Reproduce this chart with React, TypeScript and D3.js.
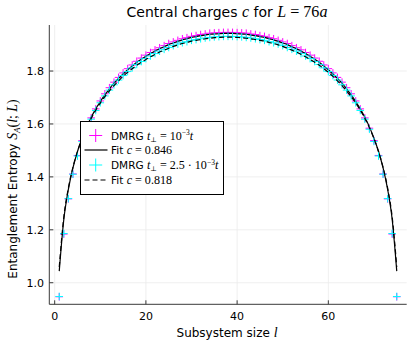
import React from 'react';
import * as d3 from 'd3';

// subsystem sizes l = 1..75 (chain length L = 76)
const sizes = d3.range(1, 76);

// DMRG, t_perp = 1e-3 t
const dmrgSmall = [
  0.947, 1.184, 1.317, 1.411, 1.481, 1.537, 1.584, 1.623, 1.657, 1.687, 1.714, 1.737, 1.758, 1.776, 1.793, 1.809, 1.823, 1.837, 1.849, 1.860,
  1.870, 1.880, 1.888, 1.896, 1.904, 1.910, 1.916, 1.922, 1.926, 1.931, 1.934, 1.938, 1.940, 1.943, 1.944, 1.945, 1.946, 1.946,
  1.946, 1.945, 1.944, 1.943, 1.940, 1.938, 1.934, 1.931, 1.926, 1.922, 1.916, 1.910, 1.904, 1.896, 1.888, 1.880, 1.870, 1.860,
  1.849, 1.837, 1.823, 1.809, 1.793, 1.776, 1.758, 1.737, 1.714, 1.687, 1.657, 1.623, 1.584, 1.537, 1.481, 1.411, 1.317, 1.184, 0.947,
];

// fit c = 0.846
const fitSmall = [
  1.044, 1.239, 1.353, 1.434, 1.496, 1.546, 1.589, 1.625, 1.657, 1.685, 1.710, 1.733, 1.754, 1.772, 1.789, 1.805, 1.819, 1.833, 1.845, 1.856,
  1.866, 1.876, 1.884, 1.892, 1.900, 1.906, 1.912, 1.918, 1.922, 1.927, 1.930, 1.934, 1.936, 1.939, 1.940, 1.941, 1.942, 1.942,
  1.942, 1.941, 1.940, 1.939, 1.936, 1.934, 1.930, 1.927, 1.922, 1.918, 1.912, 1.906, 1.900, 1.892, 1.884, 1.876, 1.866, 1.856,
  1.845, 1.833, 1.819, 1.805, 1.789, 1.772, 1.754, 1.733, 1.710, 1.685, 1.657, 1.625, 1.589, 1.546, 1.496, 1.434, 1.353, 1.239, 1.044,
];

// DMRG, t_perp = 2.5e-3 t
const dmrgLarge = [
  0.948, 1.186, 1.318, 1.410, 1.479, 1.534, 1.580, 1.618, 1.651, 1.680, 1.706, 1.728, 1.748, 1.766, 1.783, 1.798, 1.812, 1.825, 1.836, 1.847,
  1.857, 1.866, 1.875, 1.882, 1.889, 1.896, 1.902, 1.907, 1.911, 1.916, 1.919, 1.922, 1.925, 1.927, 1.929, 1.930, 1.931, 1.931,
  1.931, 1.930, 1.929, 1.927, 1.925, 1.922, 1.919, 1.916, 1.911, 1.907, 1.902, 1.896, 1.889, 1.882, 1.875, 1.866, 1.857, 1.847,
  1.836, 1.825, 1.812, 1.798, 1.783, 1.766, 1.748, 1.728, 1.706, 1.680, 1.651, 1.618, 1.580, 1.534, 1.479, 1.410, 1.318, 1.186, 0.948,
];

// fit c = 0.818
const fitLarge = [
  1.059, 1.248, 1.358, 1.436, 1.496, 1.545, 1.586, 1.621, 1.652, 1.679, 1.703, 1.725, 1.745, 1.763, 1.780, 1.795, 1.809, 1.822, 1.833, 1.844,
  1.854, 1.863, 1.872, 1.879, 1.886, 1.893, 1.899, 1.904, 1.908, 1.913, 1.916, 1.919, 1.922, 1.924, 1.926, 1.927, 1.928, 1.928,
  1.928, 1.927, 1.926, 1.924, 1.922, 1.919, 1.916, 1.913, 1.908, 1.904, 1.899, 1.893, 1.886, 1.879, 1.872, 1.863, 1.854, 1.844,
  1.833, 1.822, 1.809, 1.795, 1.780, 1.763, 1.745, 1.725, 1.703, 1.679, 1.652, 1.621, 1.586, 1.545, 1.496, 1.436, 1.358, 1.248, 1.059,
];

const xTicks = [0, 20, 40, 60];
const yTicks = [1.0, 1.2, 1.4, 1.6, 1.8];

const W = 415, H = 346;
const plot = { left: 49.3, right: 406.7, top: 25, bottom: 304.3 };
const sans = "'DejaVu Sans', sans-serif";
const serif = "'Liberation Serif', 'DejaVu Serif', serif";
const MAG = '#ff00ff';
const CYN = '#00ffff';

const x = d3.scaleLinear().domain([-1.18, 77.18]).range([plot.left, plot.right]);
const y = d3.scaleLinear().domain([0.9185, 1.974]).range([plot.bottom, plot.top]);

const line = d3.line<number>()
  .x((_, i) => x(sizes[i]))
  .y(d => y(d))
  .curve(d3.curveMonotoneX);

const Cross = ({ cx, cy, color, s = 3.8 }: { cx: number; cy: number; color: string; s?: number }) => (
  <g stroke={color} strokeWidth={1}>
    <line x1={cx - s} x2={cx + s} y1={cy} y2={cy} />
    <line x1={cx} x2={cx} y1={cy - s} y2={cy + s} />
  </g>
);

// math bits (rendered like LaTeX: serif, a bit larger than the sans text)
const M = ({ children, it = true, k = 1.15 }: { children: React.ReactNode; it?: boolean; k?: number }) => (
  <tspan fontFamily={serif} fontStyle={it ? 'italic' : 'normal'} fontSize={`${k}em`}>{children}</tspan>
);

const App = () => {
  const legendRows = [135.5, 150, 165, 180];
  return (
    <svg width={W} height={H} style={{ position: 'absolute', left: 0, top: 0, background: 'white' }}>
      {/* grid */}
      <g stroke="#ebebeb" strokeWidth={0.8}>
        {xTicks.map(t => <line key={'gx' + t} x1={x(t)} x2={x(t)} y1={plot.top} y2={plot.bottom} />)}
        {yTicks.map(t => <line key={'gy' + t} x1={plot.left} x2={plot.right} y1={y(t)} y2={y(t)} />)}
      </g>

      {/* series */}
      <g>
        {dmrgSmall.map((v, i) => <Cross key={'m' + i} cx={x(sizes[i])} cy={y(v)} color={MAG} />)}
      </g>
      <path d={line(fitSmall) || ''} fill="none" stroke="black" strokeWidth={1.2} />
      <g>
        {dmrgLarge.map((v, i) => <Cross key={'c' + i} cx={x(sizes[i])} cy={y(v)} color={CYN} />)}
      </g>
      <path d={line(fitLarge) || ''} fill="none" stroke="black" strokeWidth={1.2} strokeDasharray="5,3" />

      {/* axes */}
      <g stroke="#3a3a3a" strokeWidth={1}>
        <line x1={plot.left} x2={plot.left} y1={plot.top} y2={plot.bottom} />
        <line x1={plot.left} x2={plot.right} y1={plot.bottom} y2={plot.bottom} />
        {xTicks.map(t => <line key={'tx' + t} x1={x(t)} x2={x(t)} y1={plot.bottom} y2={plot.bottom - 4} />)}
        {yTicks.map(t => <line key={'ty' + t} x1={plot.left} x2={plot.left + 4} y1={y(t)} y2={y(t)} />)}
      </g>
      <g fontFamily={sans} fontSize={11} fill="black">
        {xTicks.map(t => (
          <text key={'lx' + t} x={x(t)} y={320} textAnchor="middle">{t}</text>
        ))}
        {yTicks.map(t => (
          <text key={'ly' + t} x={44} y={y(t) + 4} textAnchor="end">{t.toFixed(1)}</text>
        ))}
      </g>

      {/* title */}
      <text x={227} y={17} textAnchor="middle" fontFamily={sans} fontSize={14}>
        Central charges <M>c</M> for <M>L</M><M it={false}> = 76</M><M>a</M>
      </text>

      {/* axis labels */}
      <text x={227} y={337} textAnchor="middle" fontFamily={sans} fontSize={12}>
        Subsystem size <M>l</M>
      </text>
      <text transform="translate(17,189) rotate(-90)" textAnchor="middle" fontFamily={sans} fontSize={12}>
        Entanglement Entropy <M>S</M>
        <tspan fontFamily={serif} fontStyle="italic" fontSize={9} dy={3}>A</tspan>
        <tspan dy={-3}><M it={false}>(</M><M>l</M><M it={false}>; </M><M>L</M><M it={false}>)</M></tspan>
      </text>

      {/* legend */}
      <rect x={80.5} y={121.5} width={143} height={73} fill="white" stroke="black" strokeWidth={1} />
      <Cross cx={95.7} cy={legendRows[0]} color={MAG} s={6.5} />
      <line x1={84.5} x2={107.5} y1={legendRows[1]} y2={legendRows[1]} stroke="black" strokeWidth={1.2} />
      <Cross cx={95.7} cy={legendRows[2]} color={CYN} s={6.5} />
      <line x1={84.5} x2={107.5} y1={legendRows[3]} y2={legendRows[3]} stroke="black" strokeWidth={1.2} strokeDasharray="5,3" />
      <g fontFamily={sans} fontSize={10.5}>
        <text x={111} y={legendRows[0] + 4}>
          DMRG <M>t</M><tspan fontFamily={serif} fontSize={7} dy={2}>⊥</tspan>
          <tspan dy={-2}><M it={false}> = 10</M></tspan>
          <tspan fontFamily={serif} fontSize={7.5} dy={-4.5}>−3</tspan>
          <tspan dy={4.5}><M>t</M></tspan>
        </text>
        <text x={111} y={legendRows[1] + 4}>
          Fit <M>c</M><M it={false}> = 0.846</M>
        </text>
        <text x={111} y={legendRows[2] + 4}>
          DMRG <M>t</M><tspan fontFamily={serif} fontSize={7} dy={2}>⊥</tspan>
          <tspan dy={-2}><M it={false}> = 2.5 · 10</M></tspan>
          <tspan fontFamily={serif} fontSize={7.5} dy={-4.5}>−3</tspan>
          <tspan dy={4.5}><M>t</M></tspan>
        </text>
        <text x={111} y={legendRows[3] + 4}>
          Fit <M>c</M><M it={false}> = 0.818</M>
        </text>
      </g>
    </svg>
  );
};

export default App;
